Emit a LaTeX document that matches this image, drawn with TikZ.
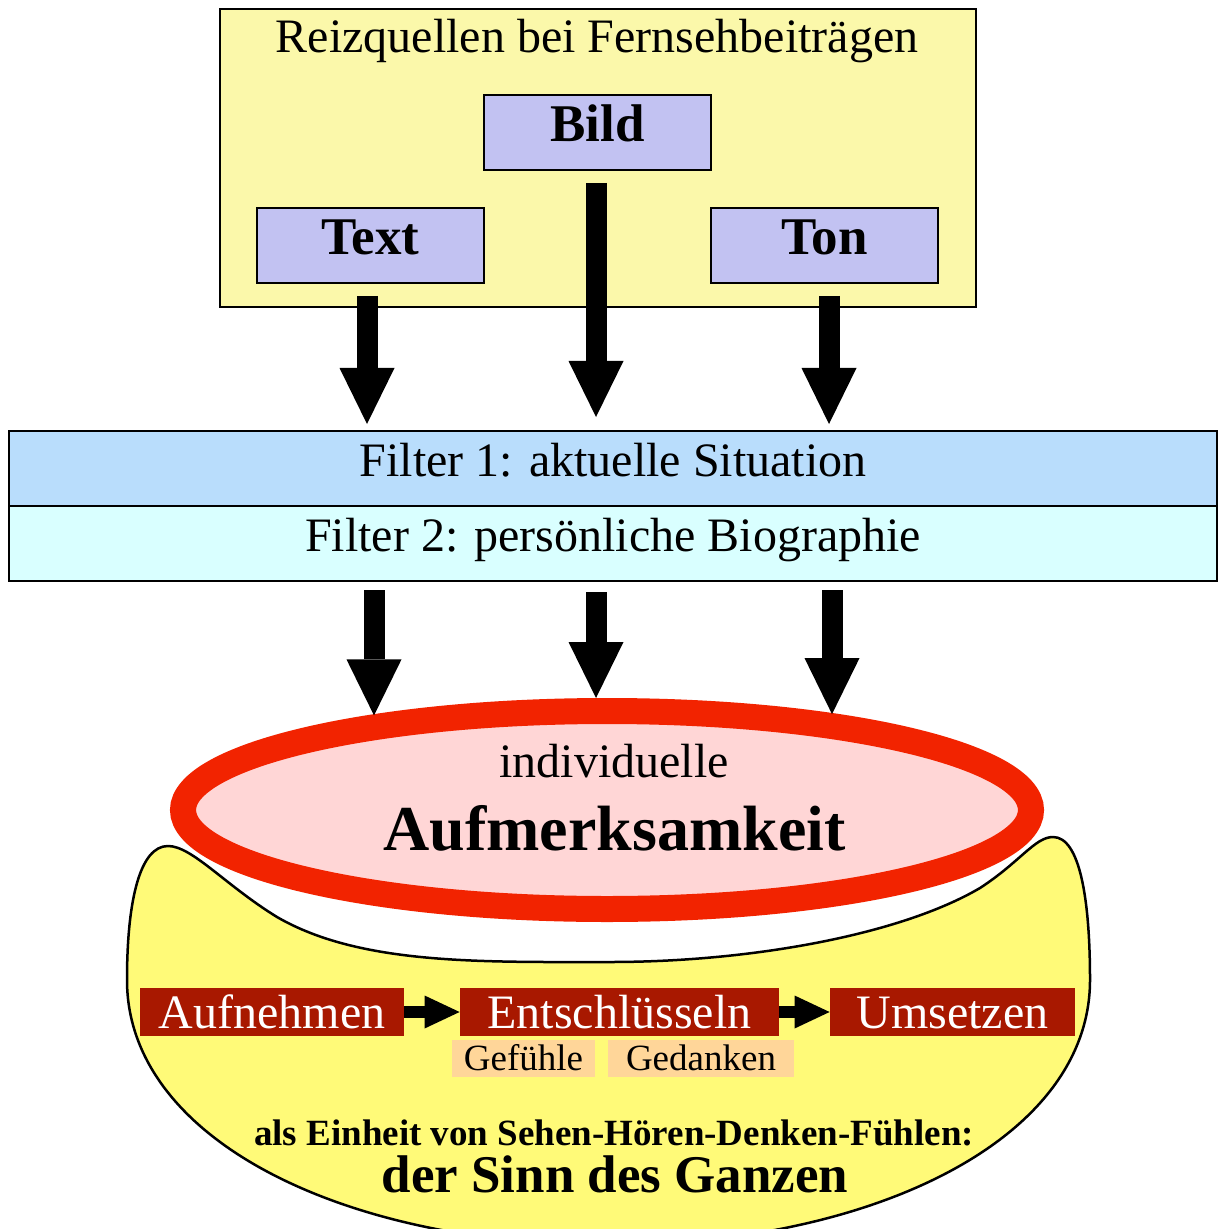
\documentclass[tikz,border=0pt]{standalone}
\usepackage{fontspec}
\setmainfont{Liberation Serif}
\usetikzlibrary{arrows.meta,shapes.geometric}
\definecolor{quelle}{RGB}{251,248,170}
\definecolor{lila}{RGB}{194,194,242}
\definecolor{filtA}{RGB}{185,221,252}
\definecolor{filtB}{RGB}{217,255,255}
\definecolor{rosa}{RGB}{255,214,214}
\definecolor{rot}{RGB}{242,35,0}
\definecolor{gelb}{RGB}{255,250,120}
\definecolor{dunkelrot}{RGB}{168,24,0}
\definecolor{pfirsich}{RGB}{255,214,153}

\begin{document}
\begin{tikzpicture}[x=0.5pt,y=-0.5pt,
    box/.style={draw,line width=1pt,inner sep=0pt},
    src/.style={box,fill=lila,minimum width=113.5pt,minimum height=37.5pt,
      font=\fontsize{26.5}{30}\selectfont\bfseries,text height=18pt,text depth=9pt},
    filt/.style={box,minimum width=604pt,minimum height=37.5pt,
      font=\fontsize{24}{28}\selectfont,text height=17pt,text depth=9.5pt},
    proc/.style={fill=dunkelrot,text=white,inner sep=0pt,minimum height=24pt,
      font=\fontsize{24}{28}\selectfont,text height=16pt,text depth=0pt},
    sub/.style={fill=pfirsich,inner sep=0pt,minimum height=18.5pt,
      font=\fontsize{18.5}{22}\selectfont,text height=12.25pt,text depth=0pt},
    bigarrow/.style={line width=10.5pt,-{Triangle[width=27.5pt,length=28pt,line width=0pt]}},
    smallarrow/.style={line width=6pt,-{Triangle[width=16.5pt,length=17.5pt,line width=0pt]}}]
    \useasboundingbox (0,0) rectangle (1219,1229);
    \clip (0,0) rectangle (1219,1229);

    % Reizquellen
    \node[box,fill=quelle,minimum width=378pt,minimum height=149pt] (quellen) at (598,158) {};
    \node[anchor=base,font=\fontsize{24}{28}\selectfont] (titel) at (597,53) {Reizquellen bei Fernsehbeiträgen};
    \node[src] (bild) at (597.5,132.5) {Bild};
    \node[src] (txt)  at (370.5,245.5) {Text};
    \node[src] (ton)  at (824.5,245.5) {Ton};

    % Filter
    \node[filt,fill=filtA] (filt1) at (613,468.5) {Filter 1: aktuelle Situation};
    \node[filt,fill=filtB] (filt2) at (613,543.5) {Filter 2: persönliche Biographie};

    \coordinate (t0) at ([xshift=-1.75pt,yshift=-6pt]txt.south);
    \coordinate (b0) at ([xshift=-0.75pt,yshift=-6pt]bild.south);
    \coordinate (n0) at ([xshift=2.25pt,yshift=-6pt]ton.south);
    \draw[bigarrow,shorten >=3pt] (t0) -- (t0 |- filt1.north);
    \draw[bigarrow,shorten >=6.5pt] (b0) -- (b0 |- filt1.north);
    \draw[bigarrow,shorten >=3pt] (n0) -- (n0 |- filt1.north);

    % Schale
    \draw[line width=1.25pt,fill=gelb]
      (168,846) .. controls (192,846) and (225,885) .. (277,917)
      .. controls (360,965) and (480,962) .. (610,962)
      .. controls (750,962) and (900,935) .. (980,888)
      .. controls (1020,862) and (1035,837) .. (1053,837)
      .. controls (1080,837) and (1090,900) .. (1090,980)
      .. controls (1090,1140) and (871,1245) .. (608,1245)
      .. controls (345,1245) and (127,1140) .. (127,980)
      .. controls (127,900) and (140,846) .. (168,846) -- cycle;

    % Aufmerksamkeit
    \node[ellipse,draw=rot,fill=rosa,line width=13pt,inner sep=0pt,
      minimum width=424pt,minimum height=99pt] (aufm) at (607,810) {};
    \node[anchor=base,font=\fontsize{24}{28}\selectfont] (indiv) at (614,777) {individuelle};
    \node[anchor=base,font=\fontsize{32}{36}\selectfont\bfseries] (aufmtxt) at (614.5,850) {Aufmerksamkeit};

    \coordinate (l0) at ([xshift=-119.5pt,yshift=-4pt]filt2.south);
    \coordinate (m0) at ([xshift=-8.5pt,yshift=-5pt]filt2.south);
    \coordinate (r0) at ([xshift=109.5pt,yshift=-4pt]filt2.south);
    \draw[bigarrow] (l0) -- (l0 |- aufm.158);
    \draw[bigarrow] (m0) -- (m0 |- aufm.north);
    \draw[bigarrow] (r0) -- (r0 |- aufm.23);

    % Verarbeitung
    \node[proc,minimum width=132pt] (aufn) at (272,1012) {Aufnehmen};
    \node[proc,minimum width=159.5pt] (ents) at (619.5,1012) {Entschlüsseln};
    \node[proc,minimum width=122.5pt] (ums) at (952.5,1012) {Umsetzen};
    \draw[smallarrow] (aufn) -- (ents);
    \draw[smallarrow] (ents) -- (ums);
    \node[sub,minimum width=71.5pt] (gef) at (523.5,1058.5) {Gefühle};
    \node[sub,minimum width=93pt] (ged) at (701,1058.5) {Gedanken};

    \node[anchor=base,font=\fontsize{18.5}{22}\selectfont\bfseries] (einheit) at (614,1145)
      {als Einheit von Sehen-Hören-Denken-Fühlen:};
    \node[anchor=base,font=\fontsize{26.5}{30}\selectfont\bfseries] (sinn) at (615,1192)
      {der Sinn des Ganzen};
\end{tikzpicture}
\end{document}
